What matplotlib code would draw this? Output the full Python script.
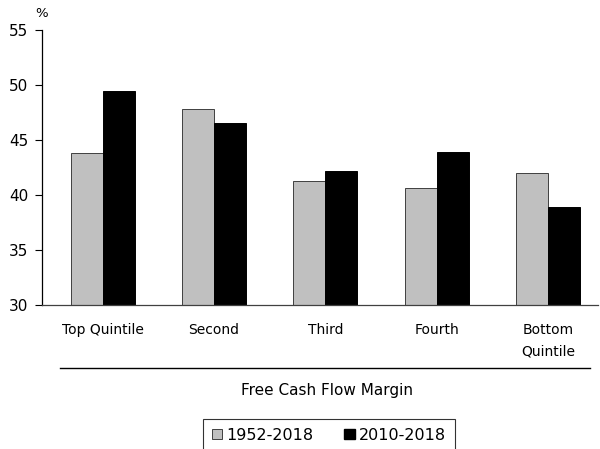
import matplotlib.pyplot as plt
import numpy as np
from matplotlib.lines import Line2D
from matplotlib.patches import Patch

categories = ['Top Quintile', 'Second', 'Third', 'Fourth', 'Bottom\nQuintile']
series_names = ['1952-2018', '2010-2018']
values_long = [43.8, 47.8, 41.25, 40.65, 42.0]
values_recent = [49.45, 46.55, 42.15, 43.95, 38.9]
y_ticks = [30, 35, 40, 45, 50, 55]

gray = '#c0c0c0'
font_size = 9.5

plt.rcParams['font.family'] = 'DejaVu Sans'

figure = plt.figure(figsize=(6, 4.49), dpi=100)
axes = figure.add_axes([0.07, 0.3207, 0.9267, 0.6125])

x = np.arange(len(categories))
width = 0.288
axes.bar(x - width / 2, values_long, width=width, color=gray, edgecolor='#404040', linewidth=0.7)
axes.bar(x + width / 2, values_recent, width=width, color='black', edgecolor='black', linewidth=0.7)

axes.set_xlim(-0.545, 4.45)
axes.set_ylim(30, 55)
axes.set_yticks(y_ticks)
axes.set_xticks(x)
axes.set_xticklabels(categories, fontsize=font_size + 0.5, linespacing=1.7)
axes.tick_params(axis='x', length=0, pad=13)
axes.tick_params(axis='y', direction='out', length=5, width=0.8, pad=5, labelsize=font_size + 1.5)

for side in ['top', 'right']:
    axes.spines[side].set_visible(False)
axes.spines['left'].set_linewidth(0.9)
axes.spines['bottom'].set_linewidth(0.9)
axes.spines['bottom'].set_color('#404040')

axes.text(0, 1.035, '%', transform=axes.transAxes, ha='center', va='bottom', fontsize=font_size)

figure.add_artist(Line2D([60 / 600, 590 / 600], [1 - 368 / 449, 1 - 368 / 449], color='black', linewidth=1.0))
figure.text(327 / 600, 1 - 390 / 449, 'Free Cash Flow Margin', ha='center', va='center', fontsize=font_size + 1.5)

handles = [Patch(facecolor=gray, edgecolor='#404040', linewidth=0.7), Patch(facecolor='black', edgecolor='black')]
figure.legend(handles, series_names, loc='upper center', bbox_to_anchor=(329 / 600, 1 - 411 / 449),
              ncol=2, frameon=True, fancybox=False, edgecolor='black', fontsize=font_size + 2,
              handlelength=0.65, handleheight=0.65, handletextpad=0.3, columnspacing=1.9, borderpad=0.55)
figure.legends[0].get_frame().set_linewidth(0.8)

figure.savefig('out.png', dpi=100)
